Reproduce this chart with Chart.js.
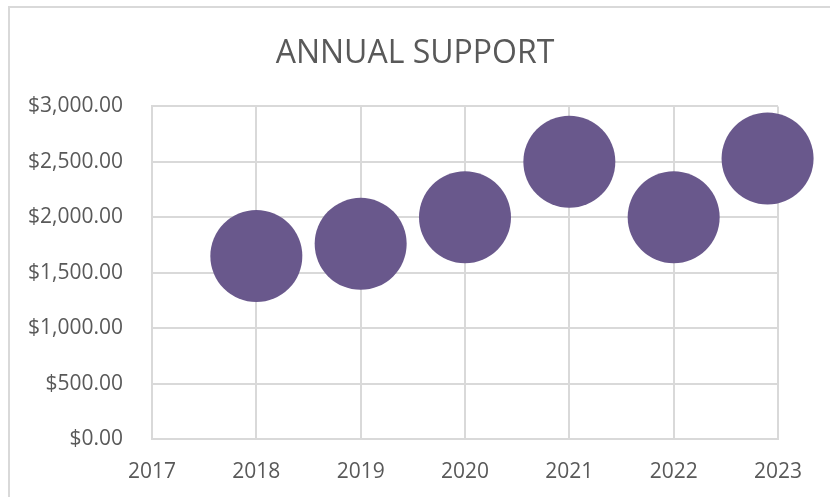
<!DOCTYPE html>
<html>
<head>
<meta charset="utf-8">
<title>Annual Support</title>
<script src="https://cdn.jsdelivr.net/npm/chart.js@4.4.1/dist/chart.umd.min.js"></script>
<style>
    html, body { margin: 0; padding: 0; background: #fff; }
    #wrap { width: 830px; height: 497px; position: relative; }
</style>
</head>
<body>
<div id="wrap"><canvas id="supportChart" width="830" height="497"></canvas></div>
<script>
// Data
const years = [2018, 2019, 2020, 2021, 2022, 2022.9];
const amounts = [1650, 1760, 2000, 2500, 2000, 2530];
const bubbleSizes = [1, 1, 1, 1, 1, 1];
const xTicks = [2017, 2018, 2019, 2020, 2021, 2022, 2023];
const yTicks = [0, 500, 1000, 1500, 2000, 2500, 3000];

const TEXT = '#595959';
const GRID = '#d9d9d9';
const FONT = "'Open Sans', 'Noto Sans', sans-serif";

// Outer frame like the spreadsheet chart border
const framePlugin = {
    id: 'frame',
    beforeDraw(chart) {
        const ctx = chart.ctx;
        ctx.save();
        ctx.fillStyle = '#fff';
        ctx.fillRect(0, 0, chart.width, chart.height);
        ctx.strokeStyle = GRID;
        ctx.lineWidth = 2;
        ctx.strokeRect(9, 7, chart.width + 20, chart.height + 20);
        ctx.restore();
    }
};

const points = years.map((y, i) => ({ x: y, y: amounts[i], s: bubbleSizes[i] }));

const money = v => '$' + v.toLocaleString('en-US', { minimumFractionDigits: 2, maximumFractionDigits: 2 });

new Chart(document.getElementById('supportChart'), {
    type: 'bubble',
    data: {
        datasets: [{
            label: 'Annual Support',
            data: points,
            backgroundColor: '#69588c',
            borderWidth: 0,
            clip: false,
            radius: ctx => 46 * Math.sqrt(ctx.raw ? ctx.raw.s : 1),
            hoverRadius: 0
        }]
    },
    options: {
        responsive: false,
        animation: false,
        layout: { padding: { left: 0, right: 0, top: 0, bottom: 0 } },
        plugins: {
            legend: { display: false },
            tooltip: { enabled: false },
            title: {
                display: true,
                text: 'ANNUAL SUPPORT',
                color: TEXT,
                font: { family: FONT, size: 32, weight: '400', lineHeight: 1.2 },
                padding: { top: 35, bottom: 33 }
            }
        },
        scales: {
            x: {
                type: 'linear',
                min: xTicks[0],
                max: xTicks[xTicks.length - 1],
                afterBuildTicks: scale => { scale.ticks = xTicks.map(v => ({ value: v })); },
                afterFit: scale => { scale.height = 58; },
                grid: { color: GRID, lineWidth: 2, drawTicks: false },
                border: { color: GRID, width: 2 },
                ticks: {
                    color: TEXT,
                    padding: 20,
                    maxRotation: 0,
                    font: { family: FONT, size: 21 },
                    callback: v => String(v)
                }
            },
            y: {
                min: yTicks[0],
                max: yTicks[yTicks.length - 1],
                afterBuildTicks: scale => { scale.ticks = yTicks.map(v => ({ value: v })); },
                afterFit: scale => { scale.width = 152; },
                grid: { color: GRID, lineWidth: 2, drawTicks: false },
                border: { color: GRID, width: 2 },
                ticks: {
                    color: TEXT,
                    padding: 29,
                    font: { family: FONT, size: 21 },
                    callback: v => money(v)
                }
            },
            // empty right-hand axis: reserves the space right of the plot
            spacer: {
                position: 'right',
                min: 0,
                max: 1,
                afterFit: scale => { scale.width = 52; },
                grid: { display: false, drawTicks: false },
                border: { display: false },
                ticks: { display: false }
            }
        }
    },
    plugins: [framePlugin]
});
</script>
</body>
</html>
